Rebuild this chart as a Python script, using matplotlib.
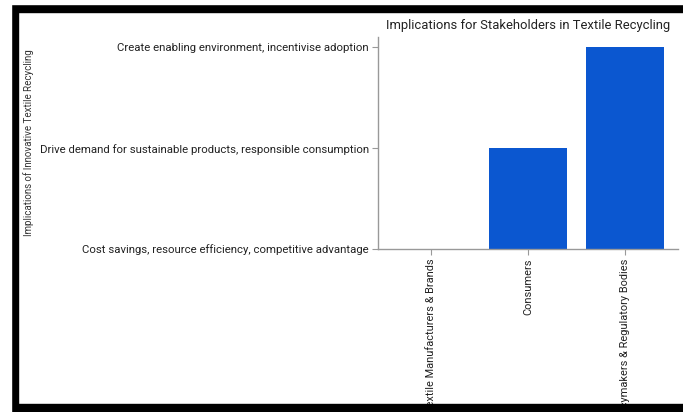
import matplotlib.pyplot as plt
from matplotlib.patches import Rectangle

# ---------- Данные ----------
stakeholders = [
    "Textile Manufacturers & Brands",
    "Consumers",
    "Policymakers & Regulatory Bodies",
]
implications = [
    "Cost savings, resource efficiency, competitive advantage",
    "Drive demand for sustainable products, responsible consumption",
    "Create enabling environment, incentivise adoption",
]

plt.rcParams["font.family"] = ["Roboto", "DejaVu Sans"]

W, H = 683, 412
fig = plt.figure(figsize=(W / 100, H / 100), dpi=100)
ax = fig.add_axes([378 / W, 1 - 249 / H, 300 / W, 212 / H])

ax.bar(stakeholders, implications, width=0.8, color="#0B57D0")

ax.set_title("Implications for Stakeholders in Textile Recycling",
             fontsize=9.4, color="#222222", pad=6)
ax.set_ylabel("Implications of Innovative Textile Recycling",
              fontsize=7.0, color="#333333")
ax.yaxis.set_label_coords(-1.145, 0.5)
ax.tick_params(axis="both", colors="#999999", labelcolor="#222222",
               length=4, width=0.8)
ax.tick_params(axis="y", labelsize=8.2, pad=2.5)
ax.tick_params(axis="x", labelsize=7.9, labelrotation=90, pad=3)

for side in ["top", "right"]:
    ax.spines[side].set_visible(False)
for side in ["left", "bottom"]:
    ax.spines[side].set_color("#999999")
    ax.spines[side].set_linewidth(1.0)

# ---------- Рамка скриншота ----------
def box(x0, y0, x1, y1, color="black", z=10):
    fig.patches.append(Rectangle((x0 / W, 1 - y1 / H), (x1 - x0) / W, (y1 - y0) / H,
                                 transform=fig.transFigure, color=color,
                                 zorder=z))

box(11, 4, W, 12)
box(11, 4, 18, H)
box(11, 404, W, H)
box(0, 0, 11, H, "white", 11)
box(0, 0, W, 4, "white", 11)

fig.savefig("out.png", dpi=100)
